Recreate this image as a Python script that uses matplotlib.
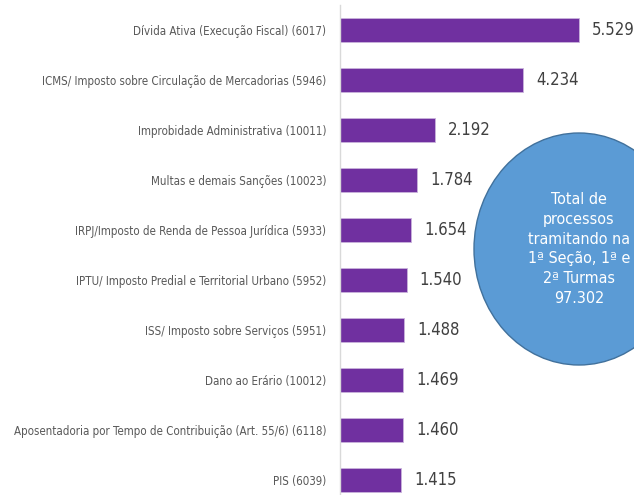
import matplotlib.pyplot as plt
from matplotlib.patches import Ellipse

categorias = [
    "Dívida Ativa (Execução Fiscal) (6017)",
    "ICMS/ Imposto sobre Circulação de Mercadorias (5946)",
    "Improbidade Administrativa (10011)",
    "Multas e demais Sanções (10023)",
    "IRPJ/Imposto de Renda de Pessoa Jurídica (5933)",
    "IPTU/ Imposto Predial e Territorial Urbano (5952)",
    "ISS/ Imposto sobre Serviços (5951)",
    "Dano ao Erário (10012)",
    "Aposentadoria por Tempo de Contribuição (Art. 55/6) (6118)",
    "PIS (6039)",
]
valores = [5529, 4234, 2192, 1784, 1654, 1540, 1488, 1469, 1460, 1415]
rotulos = ["5.529", "4.234", "2.192", "1.784", "1.654", "1.540", "1.488", "1.469", "1.460", "1.415"]
texto_total = "Total de\nprocessos\ntramitando na\n1ª Seção, 1ª e\n2ª Turmas\n97.302"

plt.rcParams['font.family'] = ['DejaVu Sans']
plt.rcParams['font.stretch'] = 'condensed'

fig = plt.figure(figsize=(6.34, 4.95), dpi=100)
ax = fig.add_axes([340 / 634, 0, 294 / 634, 490 / 495])

pos = list(range(len(valores)))
ax.barh(pos, valores, height=0.48, color="#7030A0", edgecolor="#c9b3dc", linewidth=0.6)

for p, v, r in zip(pos, valores, rotulos):
    ax.annotate(r, (v, p), xytext=(9.4, 0), textcoords="offset points",
                va="center", ha="left", fontsize=12, color="#404040")

ax.set_xlim(0, 294 / 0.0432)
ax.set_ylim(9.3, -0.5)
ax.set_yticks(pos)
ax.set_yticklabels(categorias, fontsize=8.3, color="#595959")
ax.tick_params(axis="y", length=0, pad=10)
ax.set_xticks([])
for s in ["top", "right", "bottom"]:
    ax.spines[s].set_visible(False)
ax.spines["left"].set_color("#d9d9d9")
ax.spines["left"].set_linewidth(1.0)

# balao com o total
elip = Ellipse((579 / 634, 1 - 249 / 495), 210 / 634, 232 / 495,
               transform=fig.transFigure, facecolor="#5B9BD5",
               edgecolor="#41719C", linewidth=1.0)
fig.add_artist(elip)
fig.text(579 / 634, 1 - 249 / 495, texto_total, ha="center", va="center",
         fontsize=11.5, color="white", linespacing=1.4)

fig.savefig("out.png", dpi=100)
